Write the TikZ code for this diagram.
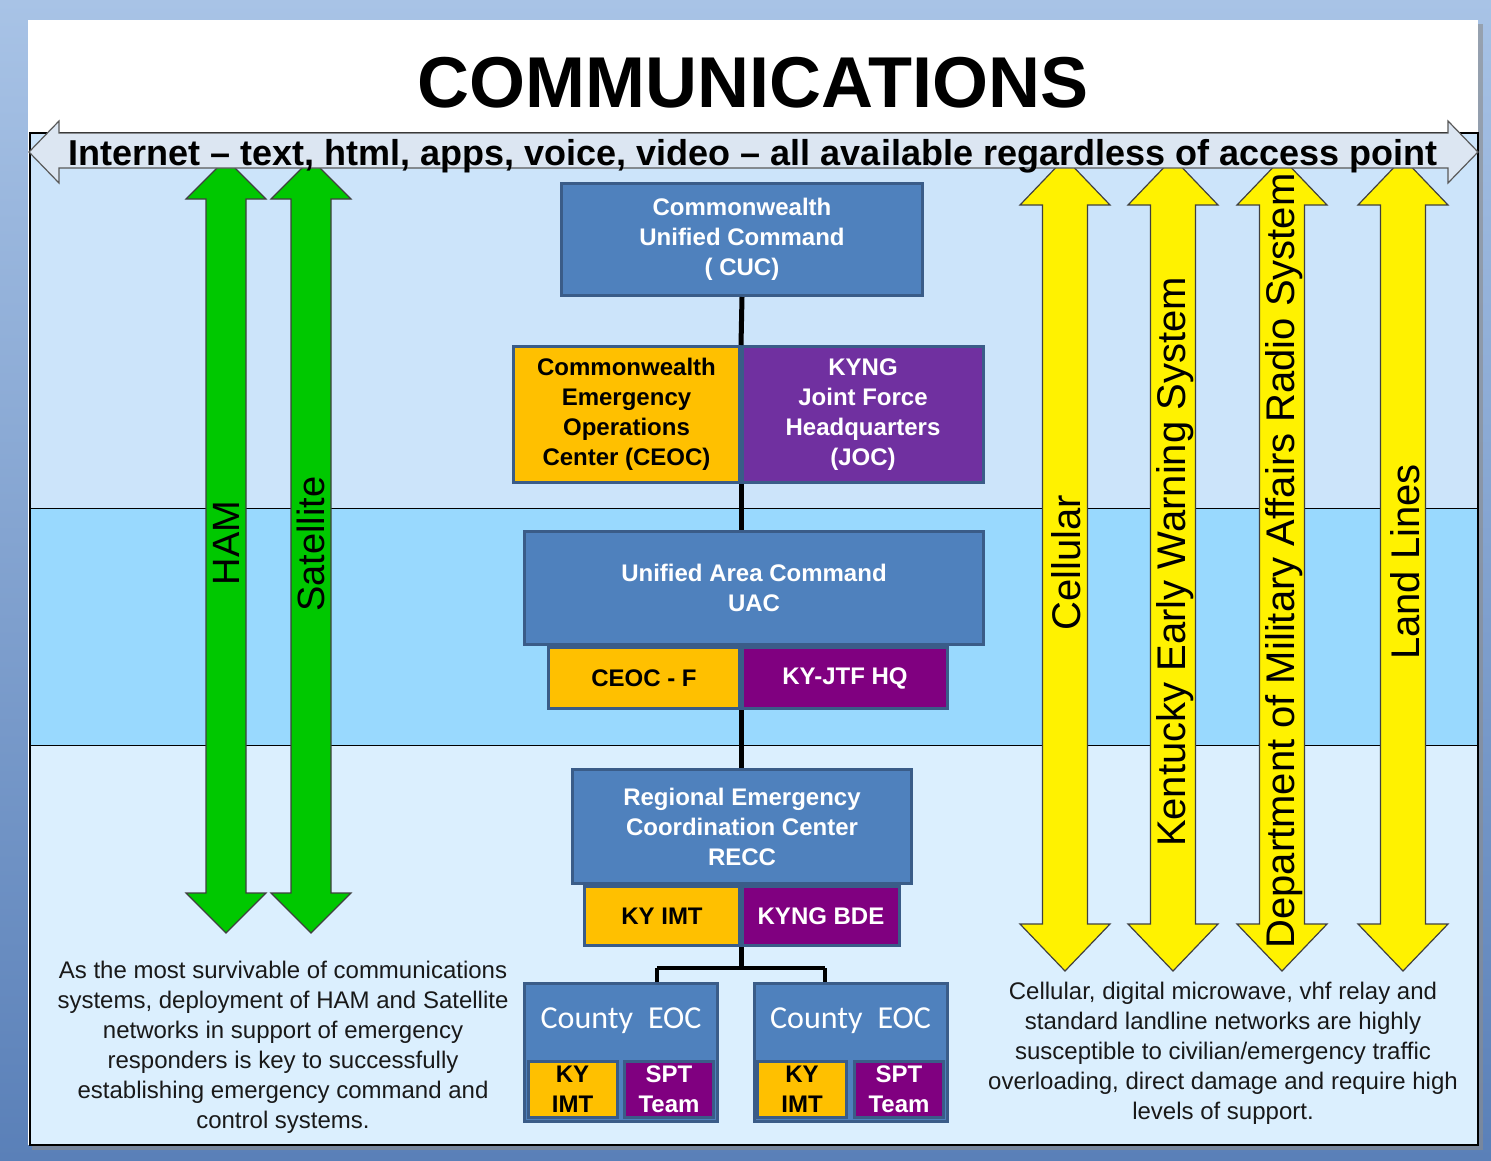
\documentclass[tikz,border=0pt]{standalone}
\usepackage{fontspec}
\setmainfont{Liberation Sans}
\newfontfamily\calfont{Carlito}
\usetikzlibrary{positioning}
\definecolor{boxblue}{HTML}{4F81BD}
\definecolor{boxedge}{HTML}{3A5C88}
\definecolor{ceocorange}{HTML}{FFC000}
\definecolor{jocpurple}{HTML}{7030A0}
\definecolor{ngpurple}{HTML}{800080}
\definecolor{bandtop}{HTML}{CCE4FA}
\definecolor{bandmid}{HTML}{99D9FE}
\definecolor{bandlow}{HTML}{DBEFFE}
\definecolor{netfill}{HTML}{DCE6F2}
\definecolor{hamgreen}{HTML}{00C800}
\definecolor{frametop}{HTML}{A8C3E6}
\definecolor{framebot}{HTML}{5A80B8}
\newcommand{\commarrow}[7]{\filldraw[fill=#7,draw=black!75,line width=1.2pt]
(#1-#4,#2+#6) -- (#1-#5,#2+#6) -- (#1,#2) -- (#1+#5,#2+#6) -- (#1+#4,#2+#6) --
(#1+#4,#3-#6) -- (#1+#5,#3-#6) -- (#1,#3) -- (#1-#5,#3-#6) -- (#1-#4,#3-#6) -- cycle;}

\begin{document}
\begin{tikzpicture}[x=1pt,y=-1pt]
\tikzstyle{unit box}=[draw=boxedge,line width=3pt,fill=boxblue,text=white,align=center,inner sep=0pt,font=\bfseries\fontsize{24}{30}\selectfont]
\tikzstyle{state box}=[unit box,fill=ceocorange,text=black]
\tikzstyle{guard box}=[unit box,fill=jocpurple]
\tikzstyle{ng box}=[unit box,fill=ngpurple]
\tikzstyle{link}=[line width=5pt,black]
\tikzstyle{vlabel}=[rotate=90,inner sep=0pt,font=\fontsize{40}{48}\selectfont]
\tikzstyle{note}=[align=center,inner sep=0pt,text=black!90,font=\fontsize{24}{30}\selectfont]
\tikzstyle{county}=[text=white,font=\calfont\fontsize{32}{38}\selectfont]
\useasboundingbox (0,0) rectangle (1491,1160);
\shade[top color=frametop,bottom color=framebot] (0,0) rectangle (1491,1160);
\fill[black!45,opacity=0.6] (32,24) rectangle (1483,1150);
\fill[white] (28,20) rectangle (1478,1145);
\fill[bandtop] (30,133) rectangle (1478,508);
\fill[bandmid] (30,508) rectangle (1478,745);
\fill[bandlow] (30,745) rectangle (1478,1145);
\draw[black,line width=1pt] (30,508) -- (1478,508) (30,745) -- (1478,745);
\draw[black,line width=1.2pt] (30,133) rectangle (1478,1145);
\node[anchor=base,font=\bfseries\fontsize{72}{80}\selectfont] (title) at (753,107) {COMMUNICATIONS};
\commarrow{226}{159}{933}{20}{40}{40}{hamgreen}
\commarrow{311}{159}{933}{20}{40}{40}{hamgreen}
\commarrow{1065}{158}{971}{22.5}{45}{47}{yellow}
\commarrow{1173}{158}{971}{22.5}{45}{47}{yellow}
\commarrow{1282}{158}{971}{22.5}{45}{47}{yellow}
\commarrow{1403}{158}{971}{22.5}{45}{47}{yellow}
\filldraw[fill=netfill,draw=black!65,line width=1.2pt] (29,152) -- (59,121) -- (59,133) -- (1448,133) -- (1448,121) -- (1478,152) -- (1448,183) -- (1448,168) -- (59,168) -- (59,183) -- cycle;
\node[anchor=base,font=\bfseries\fontsize{36}{40}\selectfont] (net) at (753,165) {Internet – text, html, apps, voice, video – all available regardless of access point};
\node[vlabel,font=\fontsize{38}{44}\selectfont] (ham) at (226,543) {HAM};
\node[vlabel,font=\fontsize{38}{44}\selectfont] (sat) at (311,544) {Satellite};
\node[vlabel] (cell) at (1066,563) {Cellular};
\node[vlabel] (kews) at (1175,562) {Kentucky Early Warning System};
\node[vlabel] (dma) at (1284,561) {Department of Military Affairs Radio System};
\node[vlabel] (land) at (1405,562) {Land Lines};
\node[unit box,minimum width=361,minimum height=112] (cuc) at (742,239.5) {Commonwealth\\Unified Command\\( CUC)};
\node[state box,minimum width=226,minimum height=136] (ceoc) at (626.5,414.5) {Commonwealth\\Emergency\\Operations\\Center (CEOC)};
\node[guard box,minimum width=241,minimum height=136,right=0pt of ceoc] (joc) {KYNG\\Joint Force\\Headquarters\\(JOC)};
\node[unit box,minimum width=459,minimum height=113] (uac) at (754,588) {Unified Area Command\\UAC};
\node[state box,minimum width=191,minimum height=61] (ceocf) at (644,678) {CEOC - F};
\node[ng box,minimum width=205,minimum height=61,right=0pt of ceocf] (kyjtf) {KY-JTF HQ};
\node[unit box,minimum width=339,minimum height=114] (recc) at (742,826.5) {Regional Emergency\\Coordination Center\\RECC};
\node[state box,minimum width=155,minimum height=59] (kyimt) at (662,916) {KY IMT};
\node[ng box,minimum width=157,minimum height=59,right=0pt of kyimt] (kyngbde) {KYNG BDE};
\node[unit box,minimum width=193,minimum height=138] (cnty1) at (621,1052.5) {};
\node[unit box,minimum width=193,minimum height=138] (cnty2) at (850.5,1052.5) {};
\node[county] (cnty1t) at (621,1021) {County\hspace{15pt}EOC};
\node[county] (cnty2t) at (850.5,1021) {County\hspace{15pt}EOC};
\node[state box,minimum width=89,minimum height=56] (cnty1ky) at (572.5,1089) {KY\\IMT};
\node[ng box,minimum width=89,minimum height=56] (cnty1spt) at (669,1089) {SPT\\Team};
\node[state box,minimum width=89,minimum height=56] (cnty2ky) at (802,1089) {KY\\IMT};
\node[ng box,minimum width=89,minimum height=56] (cnty2spt) at (899,1089) {SPT\\Team};
\coordinate (br) at (741,968);
\coordinate (brl) at (657,968);
\coordinate (brr) at (825,968);
\draw[link] (cuc.south) -- (ceoc.north east);
\draw[link] (ceoc.south east) -- (ceoc.south east |- uac.north);
\draw[link] (ceocf.south east) -- (ceocf.south east |- recc.north);
\draw[link] (kyimt.south east) -- (br);
\draw[line width=4pt] (brl) -- (brr);
\draw[line width=4pt] (brl) -- (brl |- cnty1.north);
\draw[line width=4pt] (brr) -- (brr |- cnty2.north);
\node[note] (hamnote) at (283,1047) {As the most survivable of communications\\systems, deployment of HAM and Satellite\\networks in support of emergency\\responders is key to successfully\\establishing emergency command and\\control systems.};
\node[note] (cellnote) at (1223,1053) {Cellular, digital microwave, vhf relay and\\standard landline networks are highly\\susceptible to civilian/emergency traffic\\overloading, direct damage and require high\\levels of support.};
\end{tikzpicture}
\end{document}
